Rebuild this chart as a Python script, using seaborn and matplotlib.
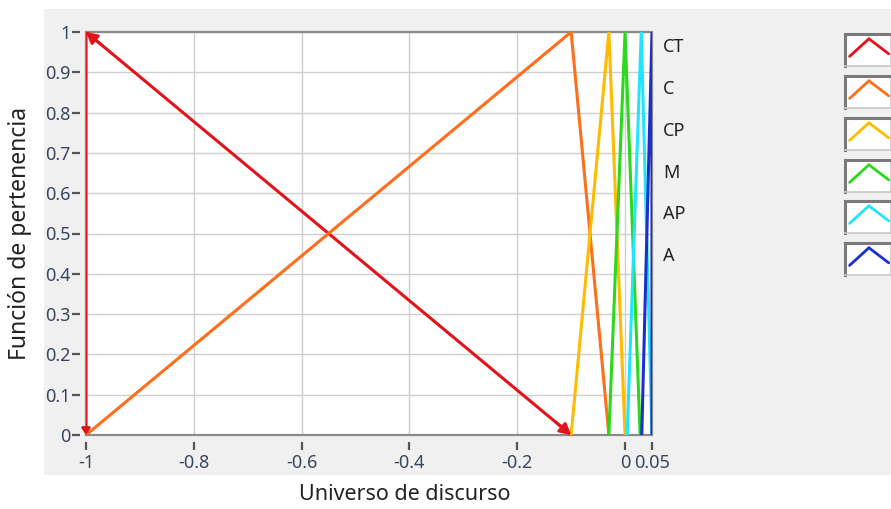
import matplotlib
matplotlib.use("Agg")
import matplotlib.pyplot as plt
import seaborn as sns
import pandas as pd
from matplotlib.patches import Rectangle

# ---- data ----
set_names = ["CT", "C", "CP", "M", "AP", "A"]
set_colors = ["#e3131c", "#ff6e1a", "#ffbb00", "#2ad81c", "#22e4ff", "#1a2fcc"]
ct_x = [-1.0, -1.0, -0.1]
ct_y = [0, 1, 0]
c_x = [-1.0, -0.1, -0.03]
c_y = [0, 1, 0]
cp_x = [-0.1, -0.03, 0.0]
cp_y = [0, 1, 0]
m_x = [-0.03, 0.0, 0.028]
m_y = [0, 1, 0]
ap_x = [0.004, 0.03, 0.05]
ap_y = [0, 1, 0]
a_x = [0.031, 0.05, 0.05]
a_y = [0, 1, 0]
x_ticks = [-1, -0.8, -0.6, -0.4, -0.2, 0, 0.05]
x_ticklabels = ["-1", "-0.8", "-0.6", "-0.4", "-0.2", "0", "0.05"]
y_ticks = [0, 0.1, 0.2, 0.3, 0.4, 0.5, 0.6, 0.7, 0.8, 0.9, 1]
y_ticklabels = ["0", "0.1", "0.2", "0.3", "0.4", "0.5", "0.6", "0.7", "0.8", "0.9", "1"]
x_label = "Universo de discurso"
y_label = "Función de pertenencia"

xs = [ct_x, c_x, cp_x, m_x, ap_x, a_x]
ys = [ct_y, c_y, cp_y, m_y, ap_y, a_y]
rows = []
for name, xx, yy in zip(set_names, xs, ys):
    for a, b in zip(xx, yy):
        rows.append({"x": a, "y": b, "set": name})
df = pd.DataFrame(rows)

sns.set_theme(style="white")
plt.rcParams["font.family"] = ["Noto Sans", "DejaVu Sans"]
label_color = "#3a4560"

W, H = 891, 509
fig = plt.figure(figsize=(W / 100, H / 100), dpi=100)
fig.patch.set_facecolor("white")
# grey panel
fig.patches.append(Rectangle((44 / W, 1 - 475 / H), (W - 44) / W, (475 - 9) / H,
                             transform=fig.transFigure, facecolor="#f0f0f0",
                             edgecolor="none", zorder=-5))

L, R, T, B = 86, 652, 32, 435
ax = fig.add_axes([L / W, 1 - B / H, (R - L) / W, (B - T) / H])
ax.set_facecolor("white")

ax.set_xlim(-1, 0.05)
ax.set_ylim(0, 1)
ax.set_xticks(x_ticks)
ax.set_xticklabels(x_ticklabels)
ax.set_yticks(y_ticks)
ax.set_yticklabels(y_ticklabels)
ax.grid(True, color="#cfcfcf", linewidth=1.0)
ax.set_axisbelow(True)

palette = dict(zip(set_names, set_colors))
sns.lineplot(data=df, x="x", y="y", hue="set", palette=palette, sort=False,
             estimator=None, units="set", legend=False, linewidth=2.2, ax=ax,
             zorder=3)

# red arrow heads
red = set_colors[0]
ap = dict(arrowstyle="-|>,head_length=0.55,head_width=0.3", color=red, lw=2.0,
          shrinkA=0, shrinkB=0)
ax.annotate("", xy=(ct_x[1], ct_y[1]), xytext=(ct_x[1] + 0.03, ct_y[1] - 0.0337),
            arrowprops=ap, zorder=6)
ax.annotate("", xy=(ct_x[2], ct_y[2]), xytext=(ct_x[2] - 0.03, ct_y[2] + 0.0337),
            arrowprops=ap, zorder=6)
ap_small = dict(arrowstyle="-|>,head_length=0.3,head_width=0.2", color=red, lw=2.0,
                shrinkA=0, shrinkB=0)
ax.annotate("", xy=(ct_x[0], ct_y[0]), xytext=(ct_x[0], ct_y[0] + 0.02),
            arrowprops=ap_small, zorder=6)

for s in ax.spines.values():
    s.set_visible(False)
ax.spines["left"].set_position(("outward", 4))
ax.spines["bottom"].set_position(("outward", 5))
ax.add_patch(Rectangle((0, 0), 1, 1, transform=ax.transAxes, fill=False,
                       edgecolor="#8a8a8a", linewidth=1.6, zorder=2, clip_on=False))

ax.tick_params(axis="both", direction="out", length=6, width=1.6, color="#555555",
               labelsize=13, labelcolor=label_color, bottom=True, left=True)
ax.tick_params(axis="x", pad=3)
ax.tick_params(axis="y", pad=1)
ax.set_xlabel(x_label, fontsize=15.5, color="#222222")
ax.set_ylabel(y_label, fontsize=16.5, color="#222222")
ax.xaxis.set_label_coords((405 - L) / (R - L), -(495 - B) / (B - T))
ax.yaxis.set_label_coords(-(L - 20) / (R - L), 0.5)
ax.xaxis.label.set_va("center")
ax.yaxis.label.set_va("center")

# legend-like labels and boxes
label_y = [47, 89, 131, 173, 214, 256]
for name, yy in zip(set_names, label_y):
    fig.text(663 / W, 1 - yy / H, name, fontsize=13, color="#222222",
             ha="left", va="center")

box_top = [34, 76, 118, 160, 201, 243]
for col, bt in zip(set_colors, box_top):
    bax = fig.add_axes([845 / W, 1 - (bt + 32) / H, 46 / W, 32 / H])
    bax.set_facecolor("white")
    bax.set_xlim(0, 1)
    bax.set_ylim(0, 1)
    bax.set_xticks([])
    bax.set_yticks([])
    for side in ["left", "top"]:
        bax.spines[side].set_color("#7a7a7a")
        bax.spines[side].set_linewidth(2.2)
    for side in ["right", "bottom"]:
        bax.spines[side].set_color("#c8c8c8")
        bax.spines[side].set_linewidth(1.2)
    bax.plot([0.1, 0.52, 0.95], [0.3, 0.85, 0.38], color=col, lw=2.0,
             solid_joinstyle="miter")

fig.savefig("out.png", dpi=100)
